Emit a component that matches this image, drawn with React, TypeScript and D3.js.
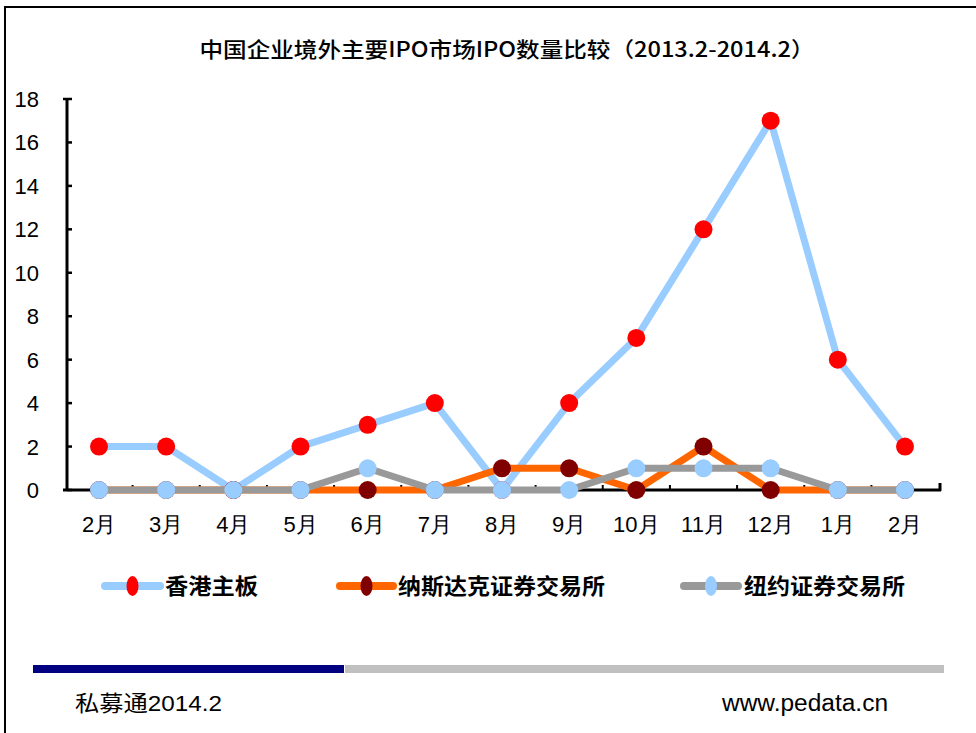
import React from "react";
import * as d3 from "d3";

const categories = ["2月", "3月", "4月", "5月", "6月", "7月", "8月", "9月", "10月", "11月", "12月", "1月", "2月"];
const hkMain = [2, 2, 0, 2, 3, 4, 0, 4, 7, 12, 17, 6, 2];
const nasdaq = [0, 0, 0, 0, 0, 0, 1, 1, 0, 2, 0, 0, 0];
const nyse = [0, 0, 0, 0, 1, 0, 0, 0, 1, 1, 1, 0, 0];
const yTicks = [0, 2, 4, 6, 8, 10, 12, 14, 16, 18];
const seriesNames = ["香港主板", "纳斯达克证券交易所", "纽约证券交易所"];
const title = "中国企业境外主要IPO市场IPO数量比较（2013.2-2014.2）";

const series = [
  { name: seriesNames[0], values: hkMain, line: "#99CCFF", marker: "#FF0000" },
  { name: seriesNames[1], values: nasdaq, line: "#FF6600", marker: "#800000" },
  { name: seriesNames[2], values: nyse, line: "#999999", marker: "#99CCFF" },
];

export default function App() {
  const x = d3.scalePoint<number>().domain(d3.range(categories.length)).range([99, 905]);
  const y = d3.scaleLinear().domain([0, 18]).range([490, 99]);
  const step = x.step();
  const axisLeft = 67;
  const axisRight = 941;
  const line = d3
    .line<number>()
    .x((_, i) => x(i) as number)
    .y((d) => y(d));

  const legendItems = [
    { x0: 105, x1: 160, tx: 165, w: 93 },
    { x0: 340, x1: 393, tx: 398, w: 207 },
    { x0: 684, x1: 738, tx: 744, w: 161 },
  ];
  const sans = "'Liberation Sans', Arial, sans-serif";
  const cjk = "'Noto Sans CJK SC', sans-serif";

  return (
    <svg
      width={976}
      height={733}
      style={{ position: "absolute", left: 0, top: 0, background: "#fff" }}
    >
      {/* frame */}
      <line x1={5} y1={7} x2={976} y2={7} stroke="#000" strokeWidth={2} />
      <line x1={5} y1={6} x2={5} y2={733} stroke="#000" strokeWidth={2} />

      <text
        x={507}
        y={57}
        textAnchor="middle"
        fontFamily={cjk}
        fontSize={21}
        fontWeight={500}
        textLength={615}
        lengthAdjust="spacingAndGlyphs"
      >
        {title}
      </text>

      {/* y axis */}
      <line x1={axisLeft} y1={y(18)} x2={axisLeft} y2={y(0)} stroke="#000" strokeWidth={3} />
      {yTicks.map((t) => (
        <g key={t}>
          <line x1={t === 18 ? 63 : axisLeft} x2={72} y1={y(t)} y2={y(t)} stroke="#000" strokeWidth={2.5} />
          <text x={39} y={y(t) + 8} textAnchor="end" fontFamily={sans} fontSize={22}>
            {t}
          </text>
        </g>
      ))}

      {/* x axis */}
      <line x1={63} y1={y(0)} x2={axisRight} y2={y(0)} stroke="#000" strokeWidth={3} />
      {categories.map((_, i) => {
        const tx = (x(i) as number) + step / 2;
        return i < categories.length - 1 ? (
          <line key={"t" + i} x1={tx} x2={tx} y1={y(0)} y2={y(0) - 5} stroke="#000" strokeWidth={2} />
        ) : null;
      })}
      <line x1={axisRight - 1} x2={axisRight - 1} y1={y(0) + 1} y2={y(0) - 7} stroke="#000" strokeWidth={3} />
      {categories.map((c, i) => (
        <text key={"c" + i} x={x(i) as number} y={532} textAnchor="middle" fontFamily={sans} fontSize={22}>
          {c}
        </text>
      ))}

      {/* series */}
      {series.map((s) => (
        <g key={s.name}>
          <path d={line(s.values) || ""} fill="none" stroke={s.line} strokeWidth={7} strokeLinejoin="round" />
          {s.values.map((v, i) => (
            <circle key={i} cx={x(i) as number} cy={y(v)} r={9} fill={s.marker} />
          ))}
        </g>
      ))}

      {/* legend */}
      {series.map((s, k) => {
        const L = legendItems[k];
        const cx = (L.x0 + L.x1) / 2;
        return (
          <g key={"l" + k}>
            <line x1={L.x0} x2={L.x1} y1={586} y2={586} stroke={s.line} strokeWidth={8} strokeLinecap="round" />
            <ellipse cx={cx} cy={586} rx={6} ry={10} fill={s.marker} />
            <text
              x={L.tx}
              y={594}
              fontFamily={cjk}
              fontSize={22}
              fontWeight="bold"
              textLength={L.w}
              lengthAdjust="spacingAndGlyphs"
            >
              {s.name}
            </text>
          </g>
        );
      })}

      {/* footer bars */}
      <rect x={33} y={665} width={311} height={8} fill="#000080" />
      <rect x={345} y={665} width={599} height={8} fill="#C0C0C0" />
      <text x={75} y={711} fontFamily={cjk} fontSize={22} textLength={147} lengthAdjust="spacingAndGlyphs">
        私募通<tspan fontFamily={sans}>2014.2</tspan>
      </text>
      <text x={722} y={711} fontFamily={sans} fontSize={23} textLength={166} lengthAdjust="spacingAndGlyphs">
        www.pedata.cn
      </text>
    </svg>
  );
}
